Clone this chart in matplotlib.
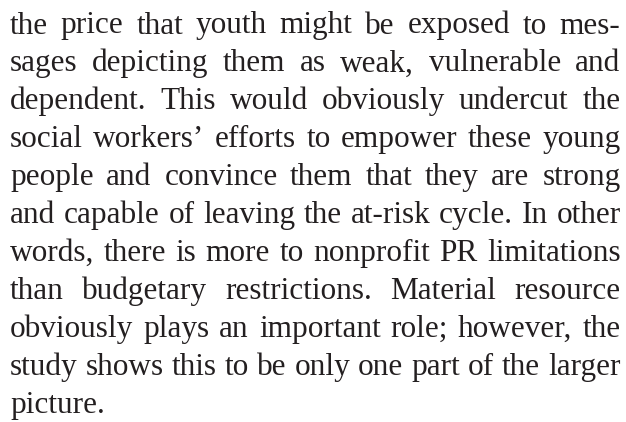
import matplotlib
matplotlib.use("Agg")
import matplotlib.pyplot as plt

lines = [
    "the price that youth might be exposed to mes-",
    "sages depicting them as weak, vulnerable and",
    "dependent. This would obviously undercut the",
    "social workers\u2019 efforts to empower these young",
    "people and convince them that they are strong",
    "and capable of leaving the at-risk cycle. In other",
    "words, there is more to nonprofit PR limitations",
    "than budgetary restrictions. Material resource",
    "obviously plays an important role; however, the",
    "study shows this to be only one part of the larger",
    "picture.",
]
justify = [True] * 10 + [False]

W, H = 626, 422
DPI = 100
fig = plt.figure(figsize=(W / DPI, H / DPI), dpi=DPI)
fig.patch.set_facecolor("white")

FONT = "Liberation Serif"
SIZE = 22.5
COLOR = "#231f20"
LEFT, RIGHT = 10.0, 620.5
BASE0, STEP = 33.5, 37.9

renderer = fig.canvas.get_renderer()

def width_px(s, size):
    t = fig.text(0, 0, s, fontsize=size, family=FONT)
    w = t.get_window_extent(renderer).width
    t.remove()
    return w

space_w = width_px("a a", SIZE) - width_px("aa", SIZE)

for i, (line, just) in enumerate(zip(lines, justify)):
    y = H - (BASE0 + i * STEP)
    words = line.split(" ")
    widths = [width_px(w, SIZE) for w in words]
    if just and len(words) > 1:
        gap = (RIGHT - LEFT - sum(widths)) / (len(words) - 1)
    else:
        gap = space_w
    x = LEFT
    for w, wd in zip(words, widths):
        fig.text(x / W, y / H, w, fontsize=SIZE, family=FONT, color=COLOR,
                 ha="left", va="baseline")
        x += wd + gap

fig.savefig("out.png", dpi=DPI, facecolor="white")
